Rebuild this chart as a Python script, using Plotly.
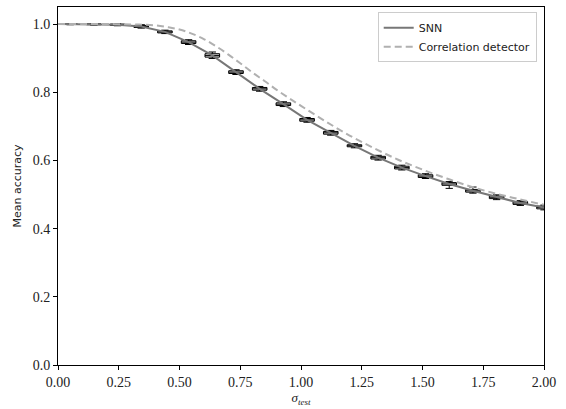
import plotly.graph_objects as go

# ---- data ----
box_sigma = [0.05, 0.1475, 0.245, 0.3425, 0.44, 0.5375, 0.635, 0.7325, 0.83, 0.9275,
             1.025, 1.1225, 1.22, 1.3175, 1.415, 1.5125, 1.61, 1.7075, 1.805, 1.9025, 2.0]
snn_median = [1.000, 1.000, 0.998, 0.993, 0.977, 0.947, 0.908, 0.859, 0.810, 0.765,
              0.719, 0.681, 0.643, 0.608, 0.579, 0.554, 0.531, 0.511, 0.492, 0.475, 0.462]
snn_q1 = [0.999, 0.998, 0.996, 0.990, 0.974, 0.943, 0.903, 0.855, 0.806, 0.761,
          0.715, 0.677, 0.640, 0.604, 0.575, 0.550, 0.527, 0.507, 0.488, 0.471, 0.458]
snn_q3 = [1.000, 1.000, 1.000, 0.996, 0.980, 0.951, 0.913, 0.863, 0.814, 0.769,
          0.723, 0.685, 0.646, 0.612, 0.583, 0.558, 0.535, 0.515, 0.496, 0.479, 0.466]
snn_low = [0.998, 0.997, 0.995, 0.988, 0.972, 0.940, 0.899, 0.852, 0.803, 0.758,
           0.712, 0.674, 0.637, 0.601, 0.572, 0.547, 0.518, 0.504, 0.485, 0.468, 0.455]
snn_high = [1.000, 1.000, 1.000, 0.998, 0.982, 0.954, 0.918, 0.866, 0.817, 0.772,
            0.726, 0.688, 0.649, 0.615, 0.586, 0.561, 0.538, 0.522, 0.499, 0.482, 0.469]

line_sigma = [0.0] + box_sigma
line_acc = [1.0] + snn_median

corr_sigma = [0.0, 0.1, 0.2, 0.3, 0.35, 0.4, 0.45, 0.5, 0.55, 0.6, 0.65, 0.7, 0.75, 0.8,
              0.85, 0.9, 0.95, 1.0, 1.1, 1.2, 1.3, 1.4, 1.5, 1.6, 1.7, 1.8, 1.9, 2.0]
corr_acc = [1.0, 1.0, 1.0, 0.999, 0.998, 0.996, 0.991, 0.984, 0.972, 0.956, 0.935, 0.911,
            0.885, 0.858, 0.833, 0.807, 0.783, 0.760, 0.715, 0.673, 0.636, 0.602, 0.573,
            0.547, 0.523, 0.503, 0.486, 0.470]

x_ticks = [0.0, 0.25, 0.5, 0.75, 1.0, 1.25, 1.5, 1.75, 2.0]
y_ticks = [0.0, 0.2, 0.4, 0.6, 0.8, 1.0]

fig = go.Figure()

fig.add_trace(go.Scatter(
    x=line_sigma, y=line_acc, mode="lines", name="SNN",
    line=dict(color="#777777", width=2)))

fig.add_trace(go.Scatter(
    x=corr_sigma, y=corr_acc, mode="lines", name="Correlation detector",
    line=dict(color="#b0b0b0", width=2, dash="7px,4px", shape="spline")))

fig.add_trace(go.Box(
    x=box_sigma, q1=snn_q1, median=snn_median, q3=snn_q3,
    lowerfence=snn_low, upperfence=snn_high,
    width=0.06, whiskerwidth=0.5, boxpoints=False, showlegend=False,
    line=dict(color="black", width=1), fillcolor="rgba(190,190,190,0.5)",
    hoverinfo="skip"))

fig.update_layout(
    width=566, height=409,
    margin=dict(l=58, r=22, t=6, b=41),
    paper_bgcolor="white", plot_bgcolor="white",
    showlegend=True,
    legend=dict(x=0.985, y=0.985, xanchor="right", yanchor="top",
                bgcolor="white", bordercolor="#cccccc", borderwidth=1,
                font=dict(family="DejaVu Sans", size=11, color="#222"),
                tracegroupgap=0, itemwidth=30),
    font=dict(family="Liberation Serif", size=14, color="#222"),
)

fig.update_xaxes(
    range=[0, 2], tickvals=x_ticks, tickformat=".2f",
    showline=True, linecolor="black", linewidth=1, mirror=True,
    ticks="outside", ticklen=4, tickcolor="black", showgrid=False, zeroline=False,
    title=dict(text="<i>σ<sub>test</sub></i>", font=dict(family="Liberation Serif", size=13), standoff=4),
)
fig.update_yaxes(
    range=[0, 1.05], tickvals=y_ticks, tickformat=".1f",
    showline=True, linecolor="black", linewidth=1, mirror=True,
    ticks="outside", ticklen=4, tickcolor="black", showgrid=False, zeroline=False,
    title=dict(text="Mean accuracy", font=dict(family="DejaVu Sans", size=11), standoff=8),
)

fig.write_html("out.html", config={"displayModeBar": False},
               post_script="document.body.style.margin='0';")
